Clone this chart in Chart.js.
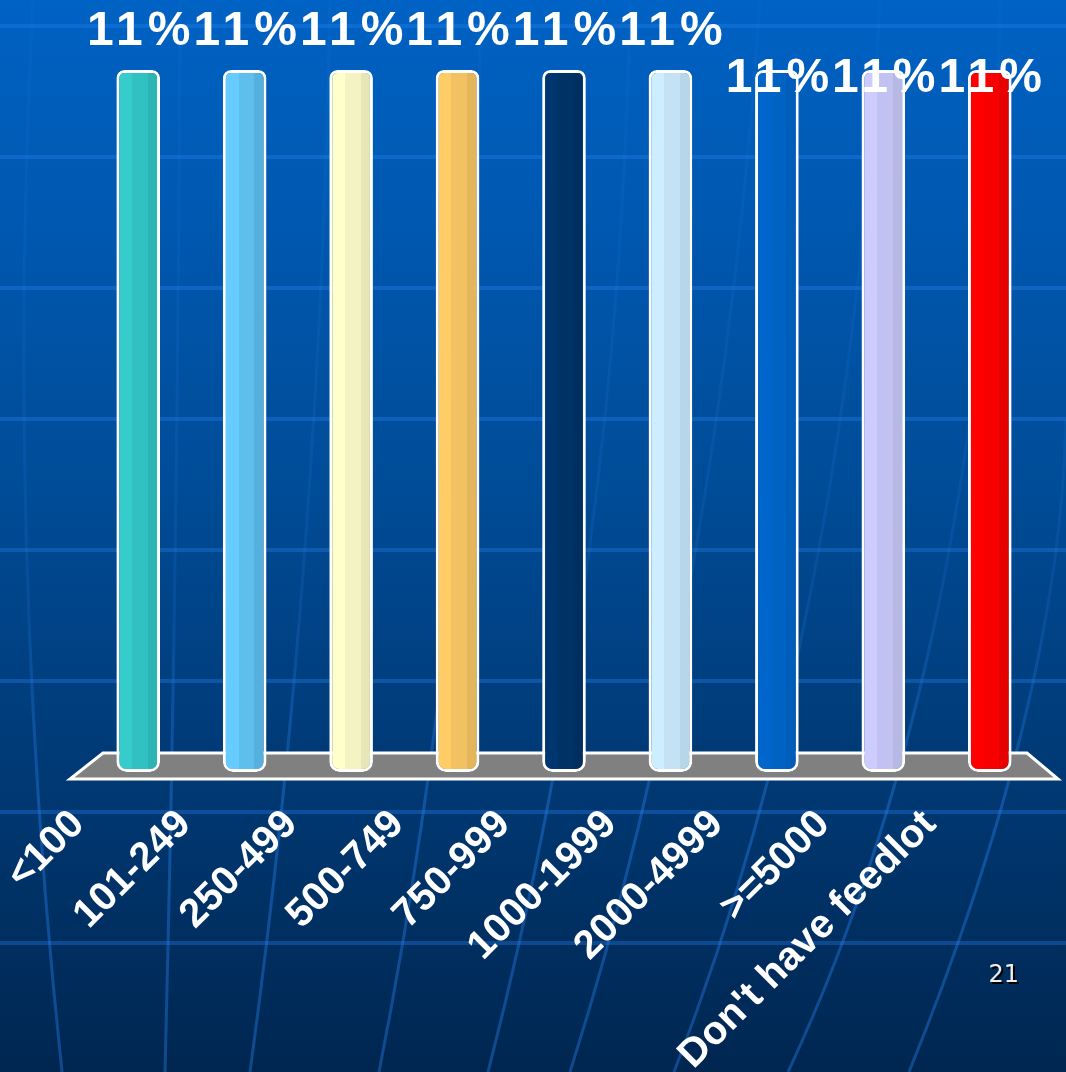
<!DOCTYPE html>
<html>
<head>
<meta charset="utf-8">
<title>Feedlot size</title>
<script src="https://cdn.jsdelivr.net/npm/chart.js@4.4.1/dist/chart.umd.min.js"></script>
<style>
  html, body { margin: 0; padding: 0; background: #003366; overflow: hidden; }
  canvas { display: block; }
</style>
</head>
<body>
<canvas id="feedlotChart" width="1066" height="1072"></canvas>
<script>
// chart data
const categories = ['<100', '101-249', '250-499', '500-749', '750-999', '1000-1999', '2000-4999', '>=5000', "Don't have feedlot"];
const percentValues = [11, 11, 11, 11, 11, 11, 11, 11, 11];
const slideNumber = '21';

// bar colours: light / mid / dark strip, fakes the cylinder shading
const barShades = [
    ['#36CCCC', '#31C1C1', '#2DB4B4'],
    ['#66CCFF', '#5EBEEE', '#56B0DE'],
    ['#FFFFCC', '#F3F3C4', '#E6E6B8'],
    ['#FFCC66', '#F2C262', '#E4B65C'],
    ['#003670', '#003266', '#002E5E'],
    ['#CCEEFF', '#C4E2F4', '#B8D6EA'],
    ['#0066CC', '#0063C4', '#005EBA'],
    ['#CCCCFF', '#C2C2F2', '#B8B8E4'],
    ['#FF0000', '#F60000', '#E60000']
];

const FONT = '"Liberation Sans", Arial, sans-serif';

// slide background: gradient with a faint globe grid
const slideBackground = {
    id: 'slideBackground',
    beforeDraw(chart) {
        const { ctx, width, height } = chart;
        ctx.save();
        const grad = ctx.createLinearGradient(0, 0, 0, height);
        grad.addColorStop(0, '#0062C4');
        grad.addColorStop(0.45, '#004C98');
        grad.addColorStop(1, '#002650');
        ctx.fillStyle = grad;
        ctx.fillRect(0, 0, width, height);

        ctx.strokeStyle = 'rgba(40, 130, 240, 0.33)';
        ctx.lineWidth = 4;
        for (let y = 26; y < height; y += 131) {
            ctx.beginPath();
            ctx.moveTo(0, y);
            ctx.lineTo(width, y);
            ctx.stroke();
        }

        // meridians fade out towards the top
        const fade = ctx.createLinearGradient(0, 0, 0, height);
        fade.addColorStop(0, 'rgba(40, 130, 240, 0.08)');
        fade.addColorStop(0.55, 'rgba(40, 130, 240, 0.15)');
        fade.addColorStop(0.75, 'rgba(40, 130, 240, 0.38)');
        fade.addColorStop(1, 'rgba(40, 130, 240, 0.38)');
        ctx.strokeStyle = fade;
        ctx.lineWidth = 3;
        const meridians = [
            [[33, 0], [5, 540], [62, 1072]],
            [[180, 0], [178, 560], [165, 1072]],
            [[330, 0], [320, 560], [250, 1072]],
            [[480, 0], [480, 560], [379, 1072]],
            [[630, 0], [620, 560], [488, 1072]],
            [[760, 0], [720, 600], [570, 1072]],
            [[880, 0], [850, 620], [674, 1072]],
            [[1000, 0], [990, 640], [788, 1072]],
            [[1066, 420], [1060, 700], [909, 1072]]
        ];
        meridians.forEach(([a, c, b]) => {
            ctx.beginPath();
            ctx.moveTo(a[0], a[1]);
            ctx.quadraticCurveTo(c[0], c[1], b[0], b[1]);
            ctx.stroke();
        });
        ctx.restore();
    }
};

// grey 3D floor under the bars
const floorPlane = {
    id: 'floorPlane',
    beforeDatasetsDraw(chart) {
        const { ctx, chartArea } = chart;
        const y0 = chart.scales.y.getPixelForValue(0);
        ctx.save();
        ctx.beginPath();
        ctx.moveTo(chartArea.left - 15, y0 + 7);
        ctx.lineTo(chartArea.right + 15, y0 + 7);
        ctx.lineTo(chartArea.right - 16, y0 - 19);
        ctx.lineTo(chartArea.left + 18, y0 - 19);
        ctx.closePath();
        ctx.fillStyle = '#808080';
        ctx.fill();
        ctx.strokeStyle = '#FFFFFF';
        ctx.lineWidth = 3;
        ctx.stroke();
        ctx.restore();
    }
};

// "11%" labels above the bars
const valueLabels = {
    id: 'valueLabels',
    afterDatasetsDraw(chart, args, opts) {
        const { ctx } = chart;
        const meta = chart.getDatasetMeta(0);
        ctx.save();
        ctx.font = 'bold 48px ' + FONT;
        ctx.letterSpacing = '5px';
        ctx.fillStyle = '#FFFFFF';
        ctx.textAlign = 'center';
        ctx.textBaseline = 'alphabetic';
        meta.data.forEach((bar, i) => {
            const shift = opts.shift[i] || 0;
            ctx.fillText(percentValues[i] + '%', bar.x + 3, bar.y - 25 + shift);
        });
        ctx.restore();
    }
};

const slideNumberText = {
    id: 'slideNumberText',
    afterDraw(chart) {
        const { ctx } = chart;
        ctx.save();
        ctx.font = '24px "DejaVu Sans", sans-serif';
        ctx.textAlign = 'right';
        ctx.textBaseline = 'alphabetic';
        ctx.fillStyle = '#000000';
        ctx.fillText(slideNumber, 1021, 984);
        ctx.fillStyle = '#EEEEEE';
        ctx.fillText(slideNumber, 1019, 982);
        ctx.restore();
    }
};

function barGradient(context) {
    const chart = context.chart;
    const i = context.dataIndex;
    const shades = barShades[i];
    const xScale = chart.scales.x;
    if (!chart.chartArea || !xScale) return shades[0];
    const x = xScale.getPixelForValue(i);
    const w = xScale.width / categories.length * 0.41;
    const g = chart.ctx.createLinearGradient(x - w / 2, 0, x + w / 2, 0);
    g.addColorStop(0, shades[0]);
    g.addColorStop(0.36, shades[0]);
    g.addColorStop(0.36, shades[1]);
    g.addColorStop(0.72, shades[1]);
    g.addColorStop(0.72, shades[2]);
    g.addColorStop(1, shades[2]);
    return g;
}

const ctx = document.getElementById('feedlotChart').getContext('2d');
new Chart(ctx, {
    type: 'bar',
    data: {
        labels: categories,
        datasets: [{
            data: percentValues,
            backgroundColor: barGradient,
            borderColor: '#FFFFFF',
            borderWidth: 3,
            borderSkipped: false,
            borderRadius: { topLeft: 8, topRight: 8, bottomLeft: 10, bottomRight: 10 },
            categoryPercentage: 1,
            barPercentage: 0.41
        }]
    },
    options: {
        responsive: false,
        animation: false,
        layout: { padding: { top: 70, left: 85, right: 23, bottom: 0 } },
        plugins: {
            legend: { display: false },
            tooltip: { enabled: false },
            valueLabels: { shift: [0, 0, 0, 0, 0, 0, 47, 47, 47] }
        },
        scales: {
            x: {
                grid: { display: false, drawTicks: false },
                border: { display: false },
                ticks: {
                    color: '#FFFFFF',
                    font: { family: FONT, size: 40, weight: 'bold' },
                    minRotation: 45,
                    maxRotation: 45,
                    autoSkip: false,
                    padding: 29,
                    labelOffset: -60
                },
                afterFit(scale) {
                    scale.height = 300;
                    scale.paddingLeft = 0;
                    scale.paddingRight = 0;
                }
            },
            y: {
                display: false,
                min: 0,
                max: 11
            }
        }
    },
    plugins: [slideBackground, floorPlane, valueLabels, slideNumberText]
});
</script>
</body>
</html>
